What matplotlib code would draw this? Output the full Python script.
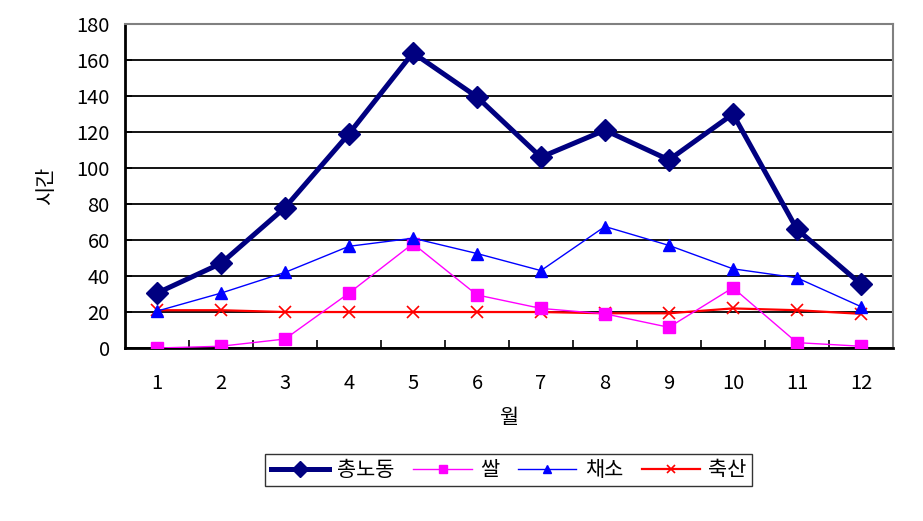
import matplotlib
matplotlib.use("Agg")
import matplotlib.pyplot as plt

plt.rcParams['font.family'] = ['Noto Sans CJK KR', 'DejaVu Sans']

# 데이터
months = [1, 2, 3, 4, 5, 6, 7, 8, 9, 10, 11, 12]
total_labor = [30.5, 47, 78, 119, 164, 139.5, 106, 121, 104.5, 130, 66, 35.5]
rice = [0, 1, 5, 30.5, 58, 29.5, 22, 19, 11.5, 33.5, 3, 1]
vegetable = [20.5, 30.5, 42, 56.5, 61, 52.5, 43, 67.5, 57, 44, 39, 23]
livestock = [21, 21, 20, 20, 20, 20, 20, 19.3, 19.3, 22, 21, 19]
names = ["총노동", "쌀", "채소", "축산"]

fig = plt.figure(figsize=(9.23, 5.21), dpi=100)
ax = fig.add_axes([0.1354, 0.332, 0.832, 0.622])

ax.plot(months, total_labor, color="#000080", lw=3.6, marker="D", ms=11, label=names[0], zorder=5)
ax.plot(months, rice, color="#FF00FF", lw=1.0, marker="s", ms=8, label=names[1], zorder=4)
ax.plot(months, vegetable, color="#0000FF", lw=1.0, marker="^", ms=8, label=names[2], zorder=4)
ax.plot(months, livestock, color="#FF0000", lw=1.6, marker="x", ms=8, mew=1.2, label=names[3], zorder=3)

ax.set_xlim(0.5, 12.5)
ax.set_ylim(0, 180)
ax.set_yticks(range(0, 181, 20))
ax.set_xticks(months)
ax.set_xticks([m + 0.5 for m in months[:-1]], minor=True)
ax.grid(axis="y", color="black", lw=1.3)
ax.set_axisbelow(True)

ax.tick_params(axis="x", which="major", length=0, pad=18, labelsize=14.5)
ax.tick_params(axis="x", which="minor", direction="in", length=6, width=1.2)
ax.tick_params(axis="y", direction="in", length=5, width=1.2, pad=11, labelsize=14.5)

for s in ["left", "bottom"]:
    ax.spines[s].set_color("black")
    ax.spines[s].set_linewidth(2)
for s in ["top", "right"]:
    ax.spines[s].set_color("#808080")
    ax.spines[s].set_linewidth(1.5)

ax.set_ylabel("시간", fontsize=15, labelpad=14)
ax.set_xlabel("월", fontsize=15, labelpad=9)

leg = fig.legend(loc="center", bbox_to_anchor=(0.551, 0.098), ncol=4, fontsize=15,
                 frameon=True, fancybox=False, edgecolor="black", handlelength=2.8,
                 columnspacing=0.9, handletextpad=0.4, borderpad=0.25, markerscale=0.75)
leg.get_frame().set_linewidth(1.0)

fig.savefig("out.png", dpi=100)
